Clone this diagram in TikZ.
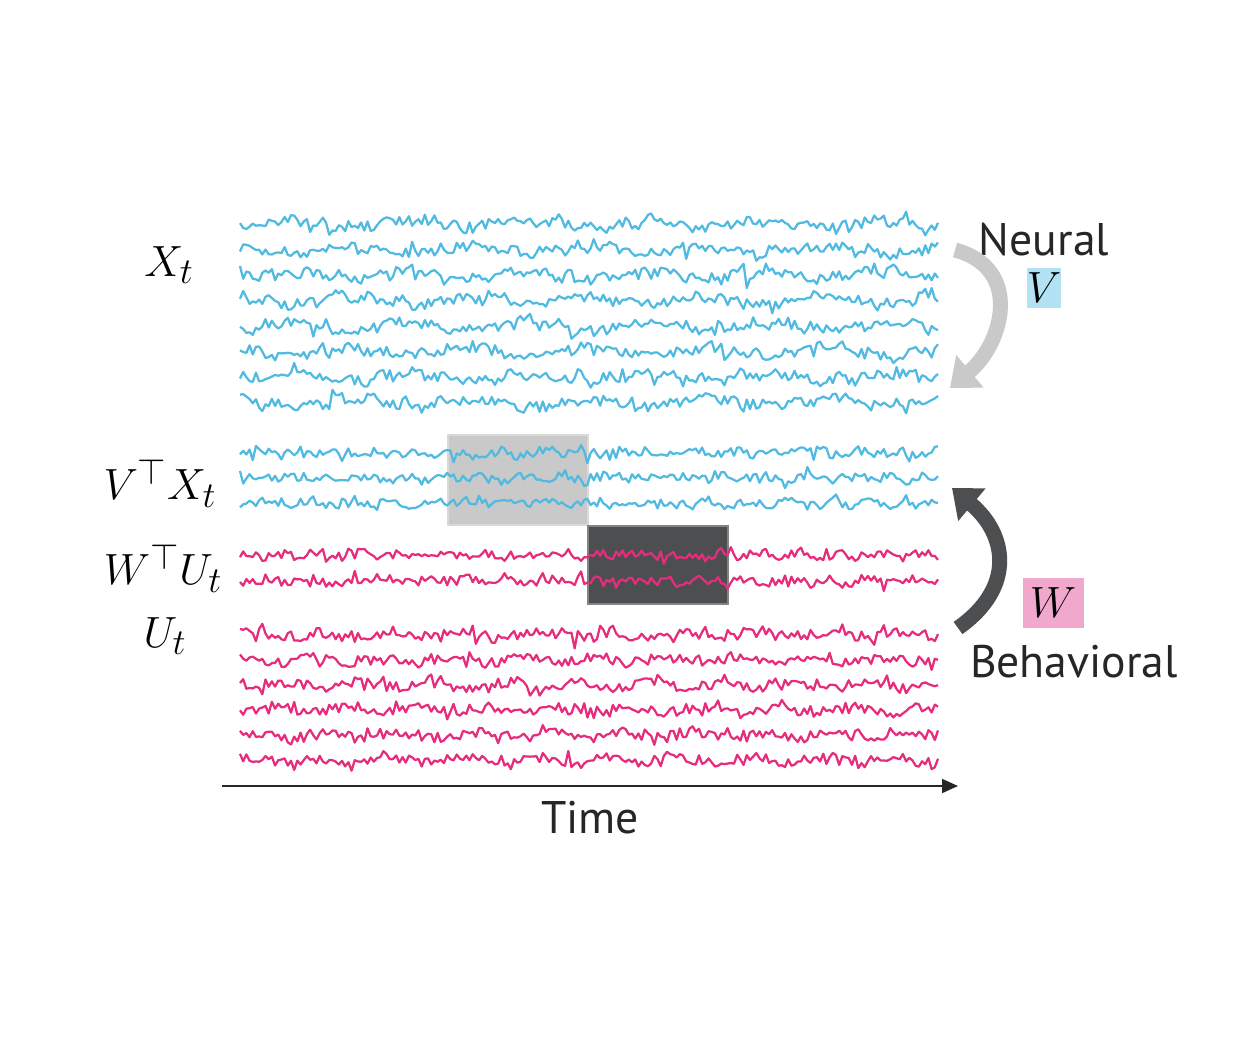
\documentclass[tikz,border=0pt]{standalone}
\usepackage{fontspec}
\setsansfont{PT Sans}
\usetikzlibrary{arrows.meta}

\tikzset{
    trace/.style={line width=0.045cm, line join=round},
    symlabel/.style={font=\fontsize{28}{33}\selectfont},
    wordlabel/.style={font=\sffamily\fontsize{26}{30}\selectfont, text=black!85},
    bigarrow/.style={line width=0.3cm, -{Triangle[length=0.52cm,width=0.82cm]}},
}

\begin{document}
\begin{tikzpicture}[x=0.02cm,y=-0.02cm]
    \definecolor{neural_blue}{RGB}{80,186,224}
    \definecolor{behav_pink}{RGB}{230,44,124}
    \definecolor{neural_box}{RGB}{178,226,243}
    \definecolor{behav_box}{RGB}{241,168,205}
    \definecolor{light_box}{RGB}{201,201,202}
    \definecolor{dark_box}{RGB}{77,78,80}
    \useasboundingbox (0,0) rectangle (1242,1058);
    \pgfmathsetseed{4217}
    % highlighted windows
    \filldraw[fill=light_box, draw=light_box!70!white, line width=0.03cm] (448,435) rectangle (588,525);
    \filldraw[fill=dark_box, draw=dark_box!70!white, line width=0.03cm] (588,526) rectangle (728,604);
    % neural traces
    \foreach \r in {224,249.5,...,403} {
        \draw[trace, neural_blue] plot[domain=240:938, samples=220] (\x, {\r + 5*rand + 10*rand*rand*rand + 3.5*sin(3*\x + 7*\r) + 2*sin(11*\x + 3*\r)});
    }
    \foreach \r in {453,478,503} {
        \draw[trace, neural_blue] plot[domain=240:938, samples=220] (\x, {\r + 4.5*rand + 9*rand*rand*rand + 2*sin(9*\x + 5*\r)});
    }
    % behavioral traces
    \foreach \r in {555,581} {
        \draw[trace, behav_pink] plot[domain=240:938, samples=220] (\x, {\r + 4.5*rand + 9*rand*rand*rand + 2*sin(9*\x + 5*\r)});
    }
    \foreach \r in {635,660,...,760} {
        \draw[trace, behav_pink] plot[domain=240:938, samples=220] (\x, {\r + 5*rand + 10*rand*rand*rand + 2.5*sin(5*\x + 3*\r)});
    }
    % row labels
    \node[symlabel] (xt) at (169,265) {$X_t$};
    \node[symlabel] (vx) at (160,483) {$V^{\top}X_t$};
    \node[symlabel] (wu) at (163,568) {$W^{\top}U_t$};
    \node[symlabel] (ut) at (165,636) {$U_t$};
    % projections
    \node[wordlabel] (neural) at (1044,240) {Neural};
    \node[fill=neural_box, inner sep=0pt, minimum width=0.68cm, minimum height=0.82cm, font=\fontsize{24}{27}\selectfont] (vmat) at (1044,288) {$V$};
    \node[fill=behav_box, inner sep=0pt, minimum width=1.22cm, minimum height=1.02cm, font=\fontsize{36}{40}\selectfont] (wmat) at (1053,603) {$W$};
    \node[wordlabel] (behav) at (1074,662) {Behavioral};
    \coordinate (ntail) at (955,250);
    \coordinate (nhead) at (950,388);
    \draw[bigarrow, light_box] (ntail) to[out=-15, in=40, looseness=1.3] (nhead);
    \coordinate (btail) at (958,628);
    \coordinate (bhead) at (952,488);
    \draw[bigarrow, dark_box] (btail) to[out=35, in=-40, looseness=1.3] (bhead);
    % time axis
    \coordinate (t0) at (222,786);
    \coordinate (t1) at (958,786);
    \draw[line width=0.04cm, black!85, -{Triangle[length=0.32cm,width=0.28cm]}] (t0) -- (t1);
    \node[wordlabel] (time) at (590,818) {Time};
\end{tikzpicture}
\end{document}
